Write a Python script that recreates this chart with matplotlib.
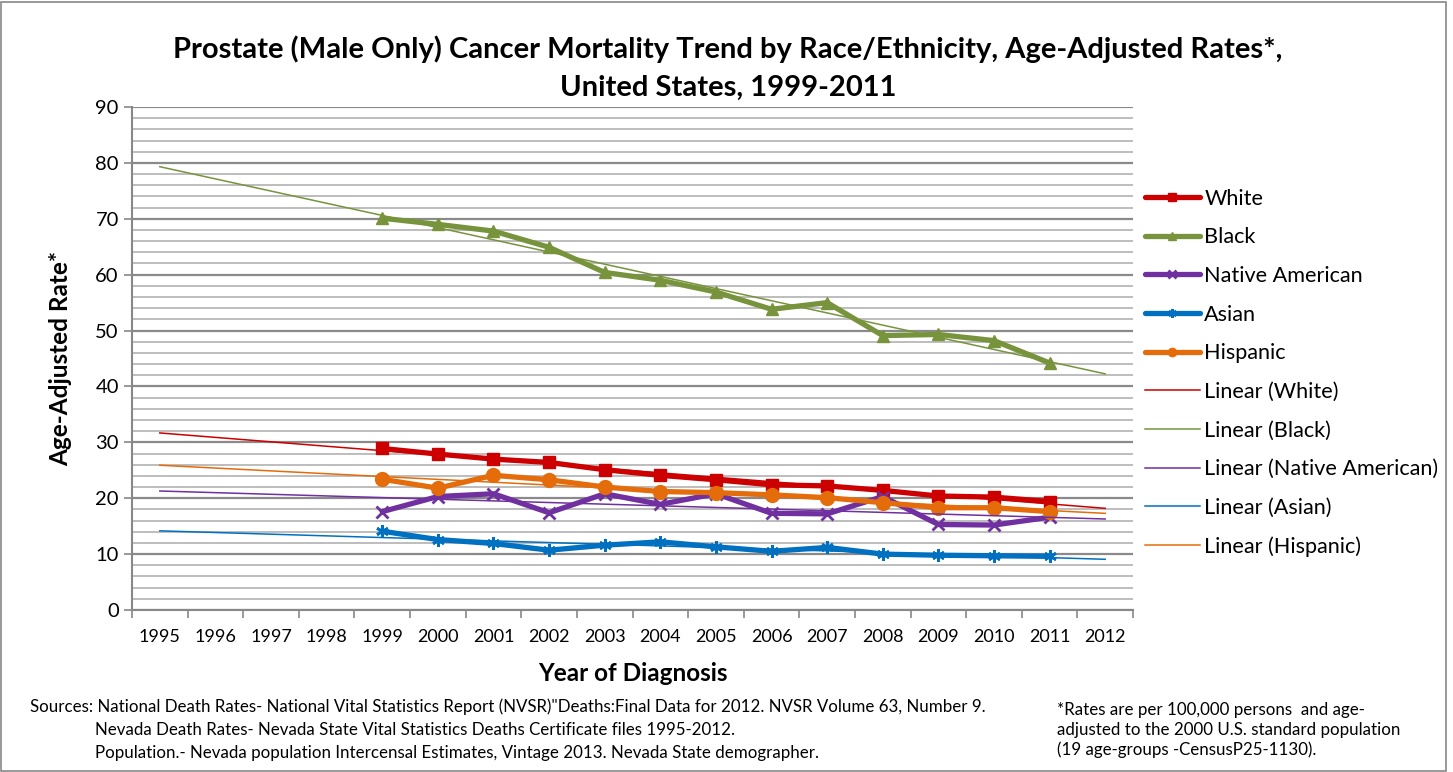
import numpy as np
import matplotlib
matplotlib.use("Agg")
import matplotlib.pyplot as plt
from matplotlib.patches import Rectangle

plt.rcParams['font.family'] = ['Lato', 'DejaVu Sans']

years = list(range(1995, 2013))
data_years = list(range(1999, 2012))

white = [28.9, 27.9, 27.0, 26.4, 25.1, 24.1, 23.3, 22.4, 22.2, 21.4, 20.4, 20.2, 19.4]
black = [70.1, 69.0, 67.8, 64.9, 60.4, 59.0, 56.9, 53.8, 55.0, 49.1, 49.3, 48.2, 44.2]
native = [17.6, 20.3, 20.8, 17.4, 20.8, 18.9, 20.8, 17.3, 17.2, 20.3, 15.3, 15.2, 16.6]
asian = [14.1, 12.6, 11.9, 10.7, 11.6, 12.2, 11.3, 10.5, 11.2, 10.0, 9.8, 9.7, 9.6]
hispanic = [23.4, 21.8, 24.1, 23.3, 22.0, 21.2, 21.0, 20.6, 20.1, 19.2, 18.3, 18.3, 17.6]

series = [
    ("White", white, "#CC0000", "s", 9),
    ("Black", black, "#77933C", "^", 9),
    ("Native American", native, "#7030A0", "x", 8),
    ("Asian", asian, "#0070C0", (6, 2, 0), 9),
    ("Hispanic", hispanic, "#E46C0A", "o", 10),
]

W, H = 1453, 772
fig = plt.figure(figsize=(W / 100, H / 100), dpi=100)
ax = fig.add_axes([132 / W, 1 - 610 / H, (1133 - 132) / W, (610 - 107) / H])

pos = {y: i for i, y in enumerate(years)}
xd = np.array([pos[y] for y in data_years])

handles_main = []
handles_trend = []
for name, vals, col, mk, ms in series:
    h, = ax.plot(xd, vals, color=col, lw=3.8, marker=mk, ms=ms,
                 mew=2 if (mk == "x" or isinstance(mk, tuple)) else 1,
                 mec=col, mfc=col, label=name, zorder=3, solid_capstyle='round')
    handles_main.append(h)
for name, vals, col, mk, ms in series:
    a, b = np.polyfit(xd, vals, 1)
    xt = np.array([0, len(years) - 1])
    h, = ax.plot(xt, a * xt + b, color=col, lw=1.1, label=f"Linear ({name})", zorder=4)
    handles_trend.append(h)

ax.set_xlim(-0.5, len(years) - 0.5)
ax.set_ylim(0, 90)
ax.set_yticks(np.arange(0, 91, 10))
ax.set_yticks(np.arange(0, 91, 2), minor=True)
ax.tick_params(axis='y', which='major', labelsize=14.5, length=6, color='#888888', width=1.2)
ax.tick_params(axis='y', which='minor', length=0)
ax.grid(axis='y', which='major', color='#8a8a8a', lw=1.6, zorder=0)
ax.grid(axis='y', which='minor', color='#bdbdbd', lw=1.4, zorder=0)

ax.set_xticks(np.arange(-0.5, len(years), 1))
ax.set_xticklabels([])
ax.set_xticks(np.arange(len(years)), minor=True)
ax.set_xticklabels([str(y) for y in years], minor=True)
ax.tick_params(axis='x', which='major', length=6, color='#888888', width=1.2)
ax.tick_params(axis='x', which='minor', length=0, labelsize=13, pad=14)

for s in ('top', 'right'):
    ax.spines[s].set_visible(False)
for s in ('left', 'bottom'):
    ax.spines[s].set_color('#888888')
    ax.spines[s].set_linewidth(1.5)
ax.set_axisbelow(True)

ax.set_xlabel("Year of Diagnosis", fontsize=17.5, fontweight='bold', labelpad=12)
ax.set_ylabel("Age-Adjusted Rate*", fontsize=17.5, fontweight='bold', labelpad=17)

fig.text(728 / W, 1 - 68 / H,
         "Prostate (Male Only) Cancer Mortality Trend by Race/Ethnicity, Age-Adjusted Rates*,\nUnited States, 1999-2011",
         ha='center', va='center', fontsize=21, fontweight='bold', linespacing=1.55)

leg = fig.legend(handles_main + handles_trend, [h.get_label() for h in handles_main + handles_trend],
                 loc='upper left', bbox_to_anchor=(1136 / W, 1 - 180 / H), frameon=False,
                 fontsize=15.6, handlelength=2.55, handletextpad=0.2, labelspacing=0.86, borderaxespad=0)
for h in leg.legend_handles[:5]:
    h.set_markersize(6)

fs = 12.2
fig.text(30 / W, 1 - 707 / H, "Sources: National Death Rates- National Vital Statistics Report (NVSR)\"Deaths:Final Data for 2012. NVSR Volume 63, Number 9.",
         fontsize=fs, va='center', ha='left')
fig.text(95 / W, 1 - 730 / H, "Nevada Death Rates- Nevada State Vital Statistics Deaths Certificate files 1995-2012.",
         fontsize=fs, va='center', ha='left')
fig.text(95 / W, 1 - 753 / H, "Population.- Nevada population Intercensal Estimates, Vintage 2013. Nevada State demographer.",
         fontsize=fs, va='center', ha='left')
fig.text(1057 / W, 1 - 730 / H,
         "*Rates are per 100,000 persons  and age-\nadjusted to the 2000 U.S. standard population\n(19 age-groups -CensusP25-1130).",
         fontsize=fs, va='center', ha='left', linespacing=1.25)

fig.patches.append(Rectangle((1 / W, 1 / H), 1445 / W, 769 / H, transform=fig.transFigure,
                             fill=False, edgecolor='#888888', lw=1.2))

fig.savefig("out.png", dpi=100)
